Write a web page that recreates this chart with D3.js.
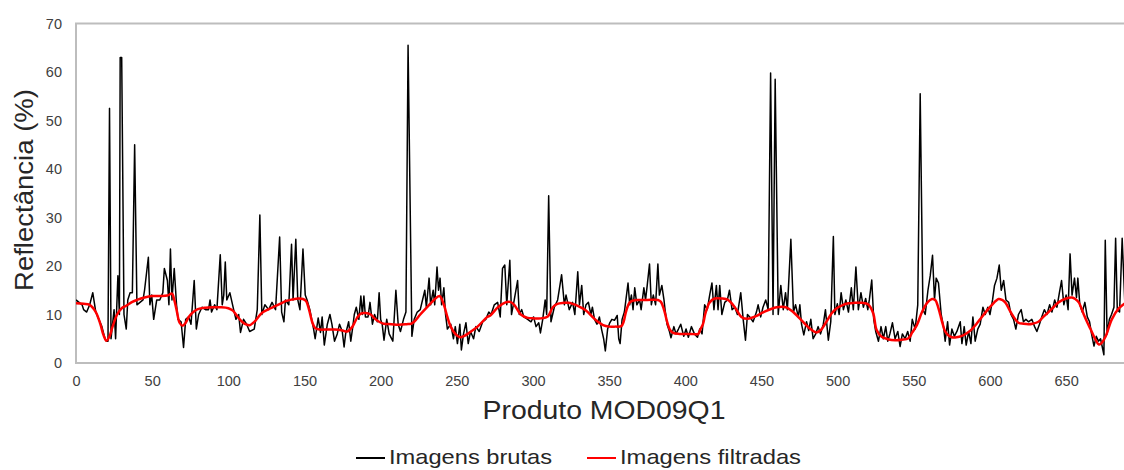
<!DOCTYPE html>
<html>
 <head>
  <meta charset="utf-8" />
  <title>Reflectância MOD09Q1</title>
  <script src="https://cdn.jsdelivr.net/npm/d3@7"></script>
  <style>
    body { margin: 0; background: #fff; }
    text { font-family: "Liberation Sans", Arial, sans-serif; }
  </style>
 </head>

 <body>
  <script>
    // raw series (day index, reflectance %)
    var rawDay = [0,2,4,5,7,9,11,13,15,17,19,20,21,22,23,25,26,27.5,28.5,29,30,31.5,33,34,35.5,37,38.5,40,42,44,45,47.5,48.5,49.7,51,53,55,57,58,60,61,62,63,64.5,66,67,69,70.6,72,74,75.5,77.6,79,80.5,82.7,85,87,88,89,91,92.5,94.7,96,97,98,99,101,103.5,105,106.8,108,110,112,114,117,119,120.7,122,124,126.5,128.7,131,133.7,135,136.5,137.5,139.7,141.5,142.5,144.3,145.6,147,149,150.5,151.7,153.5,156,157,159,160.5,161.6,163,165,166.7,168,169.7,171.5,173,174.8,176,177,179,180.4,181.5,182.7,184,185.7,187,188,189,190,191.7,193,194.6,196,197.8,199,200,201,202.2,204,205.6,208,210,211.5,213,215,216.6,218,220.5,222,224,226,229,230,231.8,232.8,234.5,235.5,237,238,239,240,241.5,242.6,243.8,246,247.8,249,250.4,252,253,254.4,256,257.5,259,261,262.5,264.7,267,269,271,272.5,274.6,276.8,278.5,280,281.5,282.8,284.8,285.9,287.7,289.9,291,292.6,294,296.5,298.7,300.4,302,303.8,304.9,306.4,308,309,310.3,311.8,314,316.2,318.8,320.6,321.7,323.8,326,327.5,329.4,330.5,332,333.3,334.8,336.4,338,339,340.4,342,343.6,345,346.4,347.5,349,350.3,351.8,353.5,355.3,356.3,357.2,358.5,360,362.4,363.5,364.6,365.7,366.8,368.2,370,371,372.8,373.9,375,376.5,377.7,379,380.5,382,383,384.6,386,386.7,388,389.6,390.6,392.5,393.9,395.5,397,399,400.5,402,404,406,408,409.5,411,412.7,414.4,416,417.5,418.8,420.4,421.5,422.6,424,425.9,427.6,429,430.7,432.5,434.2,436.4,438,439.5,440.8,442.3,444.5,446.7,447.8,449.5,451,452.8,454.4,456,457.6,459,461,462.7,464.3,465.8,467,469.3,471,472.4,474.2,475.2,476.3,477.8,479.6,481,482.4,483.9,485.6,487.2,488.8,490.6,492,493.9,495.5,497.2,498.2,499.8,501,502.3,503.8,505.4,507.1,509,510.3,512,513.6,515.3,516.9,518.4,519.8,520.8,522.4,523.7,525,526.8,528.5,530,531.6,532.9,534.3,536,537.7,539.5,541,542.5,544.3,546,547.6,549,550.9,552.6,554.2,556,557.5,559.3,560.8,562.3,563.6,564.7,566.2,568,569.5,570.6,572.2,573.5,575,576.6,578.3,580.5,581.6,583.1,584.4,586,587.5,588.8,590.3,592,593.6,595.4,596.9,598.6,600,601.7,603,604.6,606.1,607.4,609,610.5,612.3,613.8,615.5,617,618.7,620.5,622,623.6,625.3,627.5,629.3,630.8,632.5,634,635.7,637.4,639.2,640.7,642.5,644,645.6,647,648.5,650,651.3,652.6,653.9,655.5,656.8,657.7,659,660.6,662.3,663.9,665.4,666.7,668.3,669.8,671.2,672.6,673.6,674.8,675.7,676.9,678.4,679.8,681.4,682.5,683.6,685.1,686.8,688.6];
    var rawVal = [13,12.5,12,11,10.5,12,14.5,10.5,9,7.5,5,4.5,4.5,52.5,5,11,5,18,10,63,63,10,7,13,14.5,14.5,45,12,12.5,13,15,21.8,12,14,9,13,13,14.5,19.5,17,12,23.5,13,19.5,12,9,8.5,3.2,9,9.5,8,17,7,10,11.5,11,11,13,10.5,12,11,22.3,12,14,20.8,13,14.5,11,9,10,6.3,9,8,6.5,7,11,30.5,10,12,11,12.5,11,26,10.5,8.5,13,12,24.5,13,25.5,13,11,23.5,14,13,11,7,5,9.3,6.3,9.5,3.7,8,10,8,4.5,6,8,6.5,3.3,6,8.5,4.5,7,10,11.5,9,13.8,10,13.8,9.5,9.5,12.5,8,10,8.5,14.5,9,8,4.7,9,6,4.5,15,8,6.5,9,10.5,65.5,5.5,9,10.5,11,15,11.5,17.5,12,15,12,19.8,15,17.5,12,15.5,10,7,8,5,7.5,4,8,2.7,6,8.3,4,6.5,5,7.5,6.5,8.5,9,10.5,10,12,12.5,9.5,19.5,20.2,12,21.2,10,13,17,10,11,9.5,9,8.5,9.5,7.5,8.3,6.2,9,13,10,34.5,8.5,11.5,13,18.2,12,14,11,12.5,10,18.8,12,16,10,12,12.5,10,11.5,9,8,9.5,7,5,2.5,7,8.2,9,8.8,9.8,5,4,9,10.5,16.5,12,14,11,15.5,12,13,11,15.5,13,16,20.4,12,14,12,20.4,14,16,13,11,8,6.5,5.2,7.5,6,7,8,5.5,7,5.3,7.5,6,5.3,7,6,12,11,14,16.5,11,16,11,16,10,12.5,13,15,11,11.5,10,14.5,9,4.7,10,9.5,8.5,10.5,12,9.5,11.5,13,11,59.8,10,58.5,10,16,11,14.5,11,25.5,10.5,12,9.5,12,8,5.8,8.5,6.7,9,5,6,7.5,6,8,11,4.7,8.5,26.1,10,12.2,10,14.5,11,13,10.5,15.5,11,19.8,11,14.5,11.5,13.3,11,13,17.1,9,6.5,4.5,7.5,5,7.5,4.5,6,8.3,5,6.5,3.4,6,5,6.5,4.5,9,7,12,55.5,11,10,15,18,22.2,13,17.5,16.5,10,7.5,4.5,8.5,3.7,7,5.5,6.5,8.5,4,7.5,3.7,6.5,4,9.5,4.5,7,8,11.5,10,11.5,10,13,16,17.5,20.2,15,17,13,12.5,10,9,7,10,11,8.5,9,8.5,9,7.5,6.5,8,9.5,11,10,12,10.5,13,11.5,14.5,17,12,14,11,22.5,14,17.5,13.5,17.5,12,10.5,12.5,9.5,8.5,6,3.5,5.5,4.5,5,3.5,1.7,25.3,6,9,10,11.5,25.7,11,10.5,25.7,12];

    // filtered series
    var filtDay = [0,5,9,13,16,18,20,22,24,27,30,33,37,40,45,50,55,60,63,64.5,66,68,70,72,74,77,80,85,90,95,100,103,106,109,112,114,116,118,122,126,130,134,138,142,146,149,151,153,155,157,160,165,170,175,178,181.5,184.5,187,190,193.5,196,199,202,207,212,217,220,222,226,230.5,235,238.7,241.5,243.8,246,249,252,255,258,263.6,270,272,277,282,285,287.7,292,296.5,301,305.3,309.7,313,316,320,323,326,329.4,333,336,339,342.6,346,350,354,358,359.5,361,363.5,366,369,375,382,384,386,388.5,390,392,396,399.5,404,408.5,410,411.6,413,414.5,416,419.3,424,428,432.5,436.8,441,446,452,460,466,470,476,481,486,489,492,496,499,503,507,511,516,520,523.4,525.6,528.9,533,537.7,542,546.5,549,552,555.4,559,562,564,566,567.3,569,570.6,573,575,578,581.6,585,588.2,591,594.7,598,601.3,605.7,608,610,614.5,618.7,622,625.3,628,631.8,635,638.4,642,645,650,653.9,656,658.3,661.6,664,666,669,671.6,673.5,676,680,684.7,689.5];
    var filtVal = [12.3,12.2,12,10.5,8,5.8,4.6,5.5,7.5,10,11.3,11.8,12.6,13,13.5,13.8,13.8,13.9,14.3,13,11,8.3,7.7,8.3,9.5,10.5,11.1,11.4,11.5,11.5,11.3,10.8,9.6,8.5,7.9,7.8,8.2,8.8,10.3,11,11.6,12.2,12.8,13.1,13.3,13.2,12.8,11,8.5,7.2,6.9,6.9,6.9,6.7,6.5,7.5,9.3,10.2,10.3,10,9.2,8.5,8.1,8,7.9,8,8.1,8.5,10,11.5,13,13.8,12,9.5,7.5,6,5.3,5.6,6.2,7.5,9.5,9.8,11.5,12.5,12.6,12,10,9.3,9.2,9.2,9.6,11.5,12.2,12.4,12.4,12.2,11.8,11.2,10.5,9.5,8.5,7.8,7.5,7.5,7.6,8.5,10.5,12.5,12.9,13,13,13,12.6,11,8,6.8,6.2,6,6,6,6,7,8,10,11.5,12.5,13.3,13.3,13,11.5,9.5,9.1,9.6,10.6,11.5,11.5,10.7,8.9,7.3,6.3,6.8,8.2,10.2,11.2,11.9,12.3,12.4,12.4,12.1,10.2,6.8,5.4,4.9,4.7,4.8,5.1,6.3,7.8,10.5,12.5,13.2,13,11.5,10,8,6.5,5.6,5.3,5.3,5.6,6.2,7,8,9.5,10.8,12,13.2,13,12.5,10,8.3,8.1,8,8.1,8.5,9.5,10.5,11.6,12.5,13.3,13.5,13.2,12.5,10,8.3,7,5,3.8,4.2,5.5,9,11.3,12.5];

    var xTicks = [0,50,100,150,200,250,300,350,400,450,500,550,600,650];
    var yTicks = [0,10,20,30,40,50,60,70];
    var seriesNames = ["Imagens brutas", "Imagens filtradas"];
    var seriesColors = ["#000000", "#ff0000"];

    var W = 1124, H = 470,
        padL = 76, padT = 23.5, padB = 363, padR = 1124;

    var x = d3.scaleLinear().domain([0, 688]).range([padL, padR]),
        y = d3.scaleLinear().domain([0, 70]).range([padB, padT]);

    var svg = d3.select("body").append("svg")
        .attr("width", W)
        .attr("height", H);

    svg.append("defs").append("clipPath")
        .attr("id", "plot")
      .append("rect")
        .attr("x", padL).attr("y", padT - 2)
        .attr("width", padR - padL).attr("height", padB - padT + 2);

    // frame: left, top, bottom (right edge is off the page)
    svg.append("path")
        .attr("d", "M" + (padR + 2) + "," + padT + "H" + padL + "V" + padB + "H" + (padR + 2))
        .attr("fill", "none")
        .attr("stroke", "#bdbdbd")
        .attr("stroke-width", 2);

    // axes
    var xAxis = svg.append("g")
        .attr("transform", "translate(0," + padB + ")")
        .call(d3.axisBottom(x).tickValues(xTicks).tickSize(0).tickPadding(13));
    var yAxis = svg.append("g")
        .attr("transform", "translate(" + padL + ",0)")
        .call(d3.axisLeft(y).tickValues(yTicks).tickSize(0).tickPadding(14));
    [xAxis, yAxis].forEach(function(g) {
      g.select(".domain").remove();
      g.selectAll("text")
        .attr("font-family", "Liberation Sans, Arial, sans-serif")
        .attr("font-size", 14.5)
        .attr("fill", "#404040");
    });

    var rawLine = d3.line()
        .x(function(d, i) { return x(rawDay[i]); })
        .y(function(d) { return y(d); });
    var filtLine = d3.line()
        .curve(d3.curveCatmullRom)
        .x(function(d, i) { return x(filtDay[i]); })
        .y(function(d) { return y(d); });

    var plot = svg.append("g").attr("clip-path", "url(#plot)");
    plot.append("path")
        .datum(rawVal)
        .attr("d", rawLine)
        .attr("fill", "none")
        .attr("stroke", seriesColors[0])
        .attr("stroke-width", 1.5)
        .attr("stroke-linejoin", "round");
    plot.append("path")
        .datum(filtVal)
        .attr("d", filtLine)
        .attr("fill", "none")
        .attr("stroke", seriesColors[1])
        .attr("stroke-width", 2.5)
        .attr("stroke-linejoin", "round");

    // titles
    svg.append("text")
        .attr("x", 604).attr("y", 419)
        .attr("text-anchor", "middle")
        .attr("font-size", 26)
        .attr("fill", "#262626")
        .attr("textLength", 243).attr("lengthAdjust", "spacingAndGlyphs")
        .text("Produto MOD09Q1");
    svg.append("text")
        .attr("transform", "translate(33,190) rotate(-90)")
        .attr("text-anchor", "middle")
        .attr("font-size", 26)
        .attr("fill", "#262626")
        .attr("textLength", 202).attr("lengthAdjust", "spacingAndGlyphs")
        .text("Reflectância (%)");

    // legend
    var legendX = [356, 587], legendW = [163, 181];
    var leg = svg.selectAll(".leg").data(seriesNames).enter()
        .append("g").attr("class", "leg");
    leg.append("line")
        .attr("x1", function(d, i) { return legendX[i]; })
        .attr("x2", function(d, i) { return legendX[i] + 29; })
        .attr("y1", 458).attr("y2", 458)
        .attr("stroke", function(d, i) { return seriesColors[i]; })
        .attr("stroke-width", 2);
    leg.append("text")
        .attr("x", function(d, i) { return legendX[i] + 33; })
        .attr("y", 464)
        .attr("font-size", 21)
        .attr("fill", "#262626")
        .attr("textLength", function(d, i) { return legendW[i]; })
        .attr("lengthAdjust", "spacingAndGlyphs")
        .text(function(d) { return d; });
  </script>
 </body>
</html>
